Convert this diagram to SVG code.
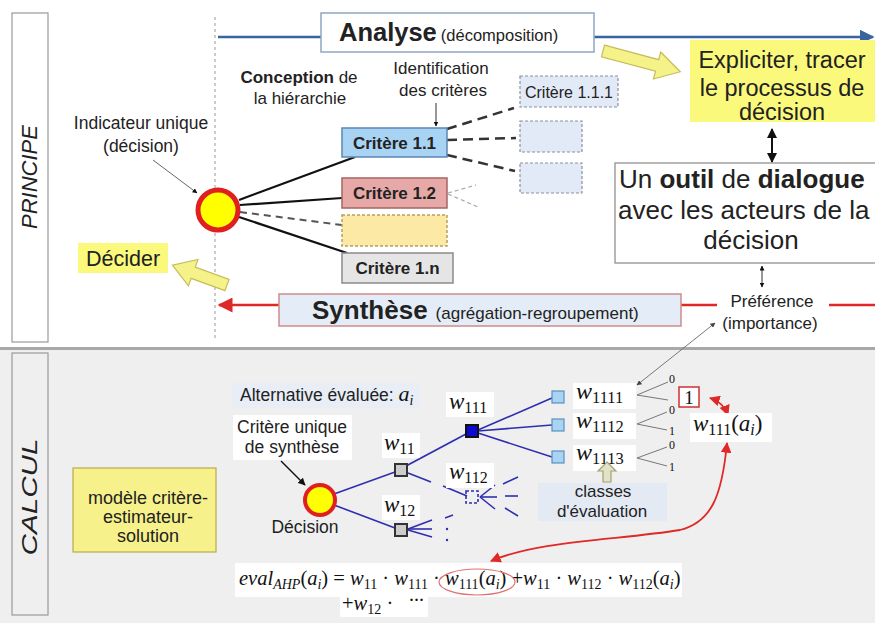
<svg xmlns="http://www.w3.org/2000/svg" width="875" height="623" viewBox="0 0 875 623">
<defs>
<style>
.sans{font-family:"Liberation Sans",Arial,sans-serif;fill:#222}
.b{font-weight:bold}
.mt{font-family:"Liberation Serif","Times New Roman",serif;fill:#111}
.it{font-style:italic}
.crit{stroke-width:1.5}
.wbg{fill:#fff}
.blue{stroke:#2e2eb0;stroke-width:1.6;fill:none}
.sq{fill:#a9d3f2;stroke:#5b8fc0;stroke-width:1.2}
.br{stroke:#777;stroke-width:1;fill:none}
.yarrow{fill:#f6f28a;stroke:#c5bd5a;stroke-width:1.2}
</style>
<marker id="ab" viewBox="0 0 10 10" refX="9" refY="5" markerWidth="6" markerHeight="6" orient="auto-start-reverse"><path d="M0,0 L10,5 L0,10 z" fill="#3a64a0"/></marker>
<marker id="ar" viewBox="0 0 10 10" refX="9" refY="5" markerWidth="6" markerHeight="6" orient="auto-start-reverse"><path d="M0,0 L10,5 L0,10 z" fill="#e02828"/></marker>
<marker id="ak" viewBox="0 0 10 10" refX="9" refY="5" markerWidth="5" markerHeight="5" orient="auto-start-reverse"><path d="M0,0 L10,5 L0,10 z" fill="#111"/></marker>
<marker id="ag" viewBox="0 0 10 10" refX="9" refY="5" markerWidth="5" markerHeight="5" orient="auto-start-reverse"><path d="M0,0 L10,5 L0,10 z" fill="#444"/></marker>
</defs>

<rect x="0" y="0" width="875" height="623" fill="#fff"/>
<rect x="0" y="350" width="875" height="273" fill="#efefef"/>
<line x1="0" y1="348.5" x2="875" y2="348.5" stroke="#a8a8a8" stroke-width="3"/>

<g id="principe-label">
<rect x="12" y="13" width="36" height="329" fill="#fff" stroke="#999" stroke-width="1.2"/>
<text class="sans it" font-size="22" transform="translate(37,177) rotate(-90)" text-anchor="middle">PRINCIPE</text>
</g>
<g id="calcul-label">
<rect x="12" y="353" width="36" height="262" fill="#efefef" stroke="#999" stroke-width="1.2"/>
<text class="sans it" font-size="22" textLength="117" lengthAdjust="spacingAndGlyphs" transform="translate(37,497) rotate(-90)" text-anchor="middle">CALCUL</text>
</g>

<line x1="215" y1="17" x2="215" y2="340" stroke="#999" stroke-width="1" stroke-dasharray="3,3"/>

<g id="connectors">
<line x1="218" y1="37" x2="321" y2="37" stroke="#3a64a0" stroke-width="2.5"/>
<line x1="594" y1="37" x2="873" y2="37" stroke="#3a64a0" stroke-width="2.5" marker-end="url(#ab)"/>
<line x1="279" y1="305" x2="219" y2="305" stroke="#e02828" stroke-width="2.5" marker-end="url(#ar)"/>
<line x1="681" y1="305" x2="717" y2="305" stroke="#e02828" stroke-width="2.5"/>
<line x1="829" y1="305" x2="875" y2="305" stroke="#e02828" stroke-width="2.5"/>
<line x1="239" y1="200" x2="355" y2="157" stroke="#111" stroke-width="2.2"/>
<line x1="240" y1="205" x2="342" y2="198" stroke="#111" stroke-width="2.2"/>
<line x1="240" y1="212" x2="342" y2="225" stroke="#555" stroke-width="2" stroke-dasharray="7,5"/>
<line x1="239" y1="217" x2="347" y2="253" stroke="#111" stroke-width="2.2"/>
<line x1="447" y1="129" x2="514" y2="108" stroke="#333" stroke-width="2.5" stroke-dasharray="10,6"/>
<line x1="447" y1="140" x2="516" y2="138" stroke="#333" stroke-width="2.5" stroke-dasharray="10,6"/>
<line x1="447" y1="155" x2="515" y2="171" stroke="#333" stroke-width="2.5" stroke-dasharray="10,6"/>
<line x1="448" y1="193" x2="476" y2="185" stroke="#aaa" stroke-width="1.2" stroke-dasharray="4,3"/>
<line x1="448" y1="194" x2="478" y2="207" stroke="#aaa" stroke-width="1.2" stroke-dasharray="4,3"/>
<line x1="436" y1="103" x2="436" y2="126" stroke="#333" stroke-width="1" marker-end="url(#ak)"/>
<line x1="153" y1="160" x2="197" y2="193" stroke="#666" stroke-width="1" marker-end="url(#ak)"/>
<line x1="772" y1="129" x2="772" y2="162" stroke="#111" stroke-width="2" marker-start="url(#ak)" marker-end="url(#ak)"/>
<line x1="762" y1="266" x2="762" y2="287" stroke="#333" stroke-width="1" marker-start="url(#ak)" marker-end="url(#ak)"/>
<line x1="715" y1="323" x2="637" y2="385" stroke="#777" stroke-width="1" marker-start="url(#ag)" marker-end="url(#ag)"/>
<line x1="281" y1="461" x2="305" y2="485" stroke="#111" stroke-width="1.5" marker-end="url(#ak)"/>
<line class="blue" x1="334" y1="494" x2="395" y2="472"/>
<line class="blue" x1="334" y1="505" x2="395" y2="528"/>
<line class="blue" x1="406" y1="466" x2="466" y2="434"/>
<line class="blue" x1="478" y1="430" x2="552" y2="398"/>
<line class="blue" x1="478" y1="431" x2="552" y2="425"/>
<line class="blue" x1="478" y1="433" x2="552" y2="457"/>
<line class="blue" x1="408" y1="473" x2="431" y2="482"/>
<line class="blue" x1="443" y1="486" x2="467" y2="496"/>
<line class="blue" x1="480" y1="497" x2="495" y2="485"/>
<line class="blue" x1="480" y1="497" x2="497" y2="497"/>
<line class="blue" x1="480" y1="497" x2="495" y2="509"/>
<line class="blue" x1="503" y1="484" x2="518" y2="477" stroke-width="2"/>
<line class="blue" x1="505" y1="496" x2="518" y2="496" stroke-width="2"/>
<line class="blue" x1="505" y1="508" x2="518" y2="516" stroke-width="2"/>
<line class="blue" x1="408" y1="529" x2="432" y2="520"/>
<line class="blue" x1="408" y1="529" x2="432" y2="529"/>
<line class="blue" x1="408" y1="530" x2="432" y2="537"/>
<line class="blue" x1="445" y1="518" x2="453" y2="515" stroke-width="2"/>
<circle cx="447" cy="529" r="1.2" fill="#2e2eb0"/>
<circle cx="447" cy="540" r="1.2" fill="#2e2eb0"/>
<path class="br" d="M637,395 L668,382 M637,395 L668,400 M637,424 L667,412 M637,424 L667,430 M637,458 L667,447 M637,458 L667,466"/>
<path d="M710,398 Q723,402 728,415" fill="none" stroke="#e02828" stroke-width="1.8" marker-start="url(#ar)" marker-end="url(#ar)"/>
<path d="M727,443 C722,495 712,522 680,530 C620,540 540,540 491,561" fill="none" stroke="#e02828" stroke-width="1.8" marker-start="url(#ar)" marker-end="url(#ar)"/>
</g>

<g id="analyse">
<rect x="321" y="13" width="273" height="39" fill="#fff" stroke="#8fa6c4" stroke-width="1.5"/>
<text class="sans" x="339" y="41"><tspan class="b" font-size="25.5">Analyse</tspan><tspan font-size="16.5" dx="4">(décomposition)</tspan></text>
</g>

<g id="arrow-expliciter">
<polygon class="yarrow" transform="translate(603,51) rotate(15)" points="0,-6 56,-6 56,-14 80,0 56,14 56,6 0,6"/>
</g>

<g id="expliciter">
<rect x="690" y="40" width="185" height="82" fill="#fbf97c"/>
<text class="sans" font-size="23.5" text-anchor="middle"><tspan x="782" y="68">Expliciter, tracer</tspan><tspan x="782" y="96">le processus de</tspan><tspan x="782" y="120">décision</tspan></text>
</g>

<g id="outil">
<rect x="615" y="163" width="268" height="100" fill="#fff" stroke="#888" stroke-width="1.2"/>
<text class="sans" font-size="26" x="619" y="188">Un <tspan class="b">outil</tspan> de <tspan class="b">dialogue</tspan></text>
<text class="sans" font-size="26" x="618" y="219">avec les acteurs de la</text>
<text class="sans" font-size="26" x="751" y="249" text-anchor="middle">décision</text>
</g>

<g id="preference">
<text class="sans" font-size="17" text-anchor="middle"><tspan x="772" y="307">Préférence</tspan><tspan x="770" y="329">(importance)</tspan></text>
</g>

<g id="synthese">
<rect x="279" y="294" width="402" height="32" fill="#e4ecf7" stroke="#d08a8a" stroke-width="1.5"/>
<text class="sans" x="312" y="319"><tspan class="b" font-size="26">Synthèse</tspan><tspan font-size="17" dx="8">(agrégation-regroupement)</tspan></text>
</g>

<g id="conception">
<text class="sans" font-size="17" text-anchor="middle"><tspan x="299" y="83"><tspan class="b">Conception</tspan> de</tspan><tspan x="300" y="104">la hiérarchie</tspan></text>
</g>
<g id="identification">
<text class="sans" font-size="17" text-anchor="middle"><tspan x="441" y="74">Identification</tspan><tspan x="443" y="96">des critères</tspan></text>
</g>

<g id="indicateur">
<text class="sans" font-size="17.5" text-anchor="middle"><tspan x="141" y="129">Indicateur unique</tspan><tspan x="141" y="152">(décision)</tspan></text>
</g>

<g id="decision-principe">
<circle cx="218" cy="210" r="20" fill="#ffff00" stroke="#e02020" stroke-width="5"/>
</g>

<g id="critere-1-1">
<rect x="342" y="128" width="105" height="29" fill="#a9d3f2" stroke="#5a86b4" class="crit"/>
<text class="sans b" font-size="17" x="394.5" y="149" text-anchor="middle">Critère 1.1</text>
</g>
<g id="critere-1-2">
<rect x="342" y="178" width="105" height="30" fill="#e6a9a7" stroke="#a86464" class="crit"/>
<text class="sans b" font-size="17" x="394.5" y="199" text-anchor="middle">Critère 1.2</text>
</g>
<g id="critere-dashed">
<rect x="342" y="215" width="105" height="31" fill="#fde9a6" stroke="#b4a060" stroke-dasharray="3,2" class="crit"/>
</g>
<g id="critere-1-n">
<rect x="342" y="253" width="111" height="30" fill="#e5e5e5" stroke="#8a8a8a" class="crit"/>
<text class="sans b" font-size="17" x="397.5" y="274" text-anchor="middle">Critère 1.n</text>
</g>
<g id="critere-1-1-1">
<rect x="520" y="76" width="98" height="31" fill="#e3eaf7" stroke="#8a909c" stroke-dasharray="3,2" stroke-width="1.2"/>
<text class="sans" font-size="16" x="569" y="98" text-anchor="middle">Critère 1.1.1</text>
</g>
<g id="critere-empty-1">
<rect x="520" y="121" width="62" height="31" fill="#e3eaf7" stroke="#8a909c" stroke-dasharray="3,2" stroke-width="1.2"/>
</g>
<g id="critere-empty-2">
<rect x="520" y="163" width="62" height="30" fill="#e3eaf7" stroke="#8a909c" stroke-dasharray="3,2" stroke-width="1.2"/>
</g>

<g id="decider">
<rect x="78" y="243" width="90" height="30" fill="#fbf97c"/>
<text class="sans" font-size="21.5" x="123" y="266" text-anchor="middle">Décider</text>
</g>
<g id="arrow-decider">
<polygon class="yarrow" transform="translate(227,285) rotate(200)" points="0,-6 36,-6 36,-14 58,0 36,14 36,6 0,6"/>
</g>

<g id="modele">
<rect x="73" y="468" width="143" height="84" fill="#f6f18a" stroke="#b8ac4c" stroke-width="1.2"/>
<text class="sans" font-size="18" text-anchor="middle"><tspan x="148" y="504">modèle critère-</tspan><tspan x="148" y="523">estimateur-</tspan><tspan x="148" y="542">solution</tspan></text>
</g>

<g id="alternative">
<rect x="232" y="383" width="188" height="25" fill="#e8edf6"/>
<text class="sans" font-size="17.5" x="240" y="401">Alternative évaluée: <tspan class="mt it" font-size="22">a</tspan><tspan class="mt it" font-size="14" dy="4">i</tspan></text>
</g>

<g id="critere-unique">
<rect x="233" y="415" width="119" height="45" fill="#fff"/>
<text class="sans" font-size="17.5" text-anchor="middle"><tspan x="292" y="433">Critère unique</tspan><tspan x="292" y="453">de synthèse</tspan></text>
</g>

<g id="decision-calcul">
<circle cx="320" cy="500" r="15" fill="#ffff00" stroke="#e02020" stroke-width="4"/>
<text class="sans" font-size="17.5" x="305" y="533" text-anchor="middle">Décision</text>
</g>

<g id="w11">
<rect x="395" y="464" width="12" height="12" fill="#cccccc" stroke="#333" stroke-width="2"/>
<rect x="382" y="433" width="38" height="25" class="wbg"/>
<text class="mt" x="384" y="450"><tspan class="it" font-size="23">w</tspan><tspan font-size="16" dy="4">11</tspan></text>
</g>
<g id="w12">
<rect x="395" y="524" width="12" height="12" fill="#cccccc" stroke="#333" stroke-width="2"/>
<rect x="382" y="495" width="38" height="25" class="wbg"/>
<text class="mt" x="384" y="512"><tspan class="it" font-size="23">w</tspan><tspan font-size="16" dy="4">12</tspan></text>
</g>
<g id="w111">
<rect x="466" y="425" width="12" height="12" fill="#0a0ad0" stroke="#111" stroke-width="2"/>
<rect x="446" y="392" width="48" height="25" class="wbg"/>
<text class="mt" x="449" y="409"><tspan class="it" font-size="23">w</tspan><tspan font-size="16" dy="4">111</tspan></text>
</g>
<g id="w112">
<rect x="466" y="491" width="12" height="12" fill="none" stroke="#2e2eb0" stroke-width="1.6" stroke-dasharray="3,2"/>
<rect x="446" y="463" width="48" height="25" class="wbg"/>
<text class="mt" x="449" y="479"><tspan class="it" font-size="23">w</tspan><tspan font-size="16" dy="4">112</tspan></text>
</g>
<g id="w1111">
<rect x="552" y="391" width="12" height="12" class="sq"/>
<rect x="573" y="383" width="63" height="26" class="wbg"/>
<text class="mt" x="576" y="399"><tspan class="it" font-size="24">w</tspan><tspan font-size="16.5" dy="4">1111</tspan></text>
</g>
<g id="w1112">
<rect x="552" y="419" width="12" height="12" class="sq"/>
<rect x="573" y="413" width="63" height="26" class="wbg"/>
<text class="mt" x="576" y="428"><tspan class="it" font-size="24">w</tspan><tspan font-size="16.5" dy="4">1112</tspan></text>
</g>
<g id="w1113">
<rect x="552" y="451" width="12" height="12" class="sq"/>
<rect x="573" y="445" width="63" height="26" class="wbg"/>
<text class="mt" x="576" y="460"><tspan class="it" font-size="24">w</tspan><tspan font-size="16.5" dy="4">1113</tspan></text>
</g>

<g id="class-labels">
<text class="mt" font-size="12" x="669" y="383">0</text>
<rect x="679" y="387" width="20" height="20" fill="#fff" stroke="#d03030" stroke-width="1.5"/>
<text class="mt" font-size="19" x="689" y="404" text-anchor="middle">1</text>
<text class="mt" font-size="12" x="669" y="414">0</text>
<text class="mt" font-size="12" x="669" y="435">1</text>
<text class="mt" font-size="12" x="669" y="449">0</text>
<text class="mt" font-size="12" x="669" y="471">1</text>
</g>

<g id="w111-ai">
<rect x="690" y="413" width="82" height="29" class="wbg"/>
<text class="mt" x="693" y="431"><tspan class="it" font-size="23">w</tspan><tspan font-size="16" dy="4">111</tspan><tspan font-size="23" dy="-4">(</tspan><tspan class="it" font-size="23">a</tspan><tspan class="it" font-size="16" dy="4">i</tspan><tspan font-size="23" dy="-4">)</tspan></text>
</g>

<g id="classes">
<rect x="538" y="483" width="129" height="38" fill="#e4eaf4"/>
<polygon points="607,462 616,471 611,471 611,482 603,482 603,471 598,471" fill="#e2e2c8" stroke="#a4a070" stroke-width="1.2"/>
<text class="sans" font-size="17" text-anchor="middle" fill="#333"><tspan x="603" y="497">classes</tspan><tspan x="602" y="517">d'évaluation</tspan></text>
</g>

<g id="formula">
<rect x="235" y="563" width="447" height="34" fill="#fff"/>
<rect x="340" y="597" width="88" height="20" fill="#fff"/>
<text class="mt" font-size="20.5" x="239" y="585"><tspan class="it">eval</tspan><tspan class="it" font-size="14" dy="4">AHP</tspan><tspan dy="-4">(</tspan><tspan class="it">a</tspan><tspan class="it" font-size="14" dy="4">i</tspan><tspan dy="-4">) = </tspan><tspan class="it">w</tspan><tspan font-size="14" dy="4">11</tspan><tspan dy="-4"> · </tspan><tspan class="it">w</tspan><tspan font-size="14" dy="4">111</tspan><tspan dy="-4"> · </tspan><tspan class="it">w</tspan><tspan font-size="14" dy="4">111</tspan><tspan dy="-4">(</tspan><tspan class="it">a</tspan><tspan class="it" font-size="14" dy="4">i</tspan><tspan dy="-4">) +</tspan><tspan class="it">w</tspan><tspan font-size="14" dy="4">11</tspan><tspan dy="-4"> · </tspan><tspan class="it">w</tspan><tspan font-size="14" dy="4">112</tspan><tspan dy="-4"> · </tspan><tspan class="it">w</tspan><tspan font-size="14" dy="4">112</tspan><tspan dy="-4">(</tspan><tspan class="it">a</tspan><tspan class="it" font-size="14" dy="4">i</tspan><tspan dy="-4">)</tspan></text>
<text class="mt" font-size="20.5" x="342" y="610">+<tspan class="it">w</tspan><tspan font-size="14" dy="4">12</tspan><tspan dy="-4"> ·</tspan></text>
<text class="mt b" font-size="15" x="409" y="605">···</text>
<ellipse cx="477" cy="582" rx="38" ry="13" fill="none" stroke="#e07070" stroke-width="1.2"/>
</g>
</svg>
